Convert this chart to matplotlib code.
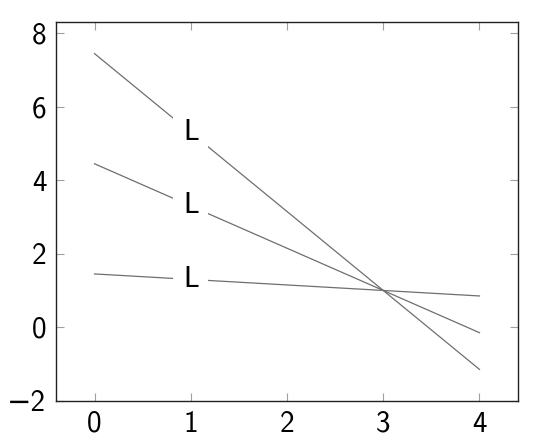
import matplotlib
matplotlib.use("Agg")
import matplotlib.pyplot as plt
import numpy as np

plt.rcParams['font.family'] = ['cmss10', 'DejaVu Sans']
plt.rcParams['axes.unicode_minus'] = False
plt.rcParams['mathtext.fontset'] = 'cm'

# data
x = [0, 1, 2, 3, 4]
slopes = [-2.15, -1.15, -0.15]
intercepts = [7.45, 4.45, 1.45]
label_text = "L"
label_x = 1
xticks = [0, 1, 2, 3, 4]
yticks = [-2, 0, 2, 4, 6, 8]

fig = plt.figure(figsize=(5.4, 4.45), dpi=100)
ax = fig.add_axes([56 / 540, 1 - 401 / 445, (518 - 56) / 540, (401 - 22) / 445])

for m, b in zip(slopes, intercepts):
    y = [b + m * xi for xi in x]
    ax.plot(x, y, color="#6e6e6e", lw=0.9, zorder=1)
    ax.text(label_x, b + m * label_x, label_text, fontsize=21, ha="center", va="center",
            bbox=dict(facecolor="white", edgecolor="none", pad=7), zorder=2)

ax.set_xlim(-0.4, 4.4)
ax.set_ylim(-2.01, 8.31)
ax.set_xticks(xticks)
ax.set_yticks(yticks)
ax.set_yticklabels(["\u22122" if t < 0 else str(t) for t in yticks])
ax.tick_params(direction="in", length=6, width=0.8, color="#a0a0a0", labelsize=21,
               top=True, right=True, pad=7)
for s in ax.spines.values():
    s.set_linewidth(1.0)
    s.set_color("#222222")

fig.savefig("out.png", dpi=100)
